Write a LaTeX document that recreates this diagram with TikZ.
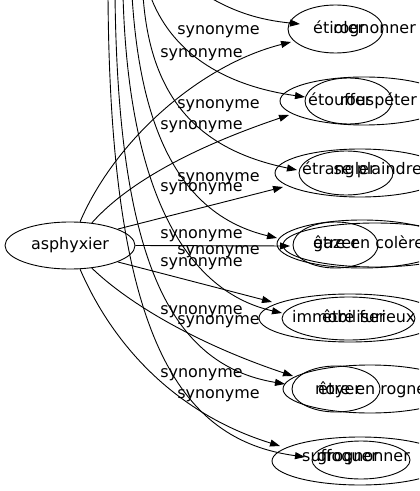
\documentclass[tikz,border=0pt]{standalone}
\usepackage{fontspec}
\setmainfont{DejaVu Sans}
\usetikzlibrary{arrows.meta,shapes.geometric}
\begin{document}
\begin{tikzpicture}[x=1bp,y=-1bp,
  ell/.style={draw,ellipse,inner sep=0pt,line width=0.9bp},
  edge/.style={draw,line width=0.9bp,-{Triangle[length=10bp,width=7bp]}},
  lbl/.style={anchor=base,inner sep=0pt,font=\fontsize{16}{19}\selectfont},
  word/.style={inner sep=0pt,font=\fontsize{16}{19}\selectfont},
]
\useasboundingbox (0,0) rectangle (419,491);
\clip (0,0) rectangle (419,491);
% source
\node[ell,minimum width=130bp,minimum height=47bp,font=\fontsize{16}{19}\selectfont] (asph) at (70,245.5) {asphyxier};
% target ellipses
\node[ell,minimum width=95bp,minimum height=48bp] (r1a) at (335.5,29) {};
\node[ell,minimum width=87bp,minimum height=46bp] (r2a) at (348.5,101) {};
\node[ell,minimum width=168bp,minimum height=48bp] (r2b) at (364,101) {};
\node[ell,minimum width=94bp,minimum height=44bp] (r3a) at (346,173) {};
\node[ell,minimum width=170bp,minimum height=48bp] (r3b) at (360,173) {};
\node[ell,minimum width=85bp,minimum height=46bp] (r4a) at (335.5,245) {};
\node[ell,minimum width=170bp,minimum height=48bp] (r4b) at (362,244) {};
\node[ell,minimum width=184bp,minimum height=44bp] (r4c) at (375,245) {};
\node[ell,minimum width=133bp,minimum height=43bp] (r5a) at (348.5,318.5) {};
\node[ell,minimum width=182bp,minimum height=48bp] (r5b) at (350,318) {};
\node[ell,minimum width=88bp,minimum height=46bp] (r6a) at (336,389) {};
\node[ell,minimum width=174bp,minimum height=48bp] (r6b) at (370,389) {};
\node[ell,minimum width=98bp,minimum height=38bp] (r7a) at (361,460) {};
\node[ell,minimum width=176bp,minimum height=48bp] (r7b) at (360,461) {};
% words
\node[word,anchor=base west] (w1a) at (313,33.5) {étioler};
\node[word,anchor=base east] (w1b) at (416,33.5) {rognonner};
\node[word,anchor=base west] (w2a) at (308,106) {étouffer};
\node[word,anchor=base east] (w2b) at (417,106) {rouspéter};
\node[word,anchor=base west] (w3a) at (302,174.5) {étrangler};
\node[word,anchor=base east] (w3b) at (422,174.5) {se plaindre};
\node[word,anchor=base west] (w4a) at (313,248.7) {gazer};
\node[word,anchor=base west] (w4b) at (313,248.7) {être en colère};
\node[word,anchor=base west] (w5a) at (292,322) {immobiliser};
\node[word,anchor=base west] (w5b) at (322,322) {être furieux};
\node[word,anchor=base west] (w6a) at (315,394.5) {noyer};
\node[word,anchor=base west] (w6b) at (318,394.5) {être en rogne};
\node[word,anchor=base west] (w7a) at (302,461.5) {suffoquer};
\node[word,anchor=base east] (w7b) at (410,461.5) {grognonner};
% edge labels
\node[lbl] (l1) at (218.5,35) {synonyme};
\node[lbl] (l2) at (201.5,57.5) {synonyme};
\node[lbl] (l3) at (218.5,108.5) {synonyme};
\node[lbl] (l4) at (201.5,129.5) {synonyme};
\node[lbl] (l5) at (218.5,181.5) {synonyme};
\node[lbl] (l6) at (201.5,191.5) {synonyme};
\node[lbl] (l7) at (201.5,238.5) {synonyme};
\node[lbl] (l8) at (218.5,254.5) {synonyme};
\node[lbl] (l9) at (201.5,266) {synonyme};
\node[lbl] (l10) at (201.5,314.5) {synonyme};
\node[lbl] (l11) at (218.5,324.5) {synonyme};
\node[lbl] (l12) at (201.5,377.5) {synonyme};
\node[lbl] (l13) at (218.5,398.5) {synonyme};
% arrow tips (graph 1)
\coordinate (e1) at (291,42);
\coordinate (e2) at (289,115);
\coordinate (e3) at (283,187);
\coordinate (e4) at (290,246);
\coordinate (e5) at (272,302);
\coordinate (e6) at (293,376);
\coordinate (e7) at (280,446);
% arrow tips (graph 2)
\coordinate (g1) at (300,24);
\coordinate (g2) at (305,97);
\coordinate (g3) at (297,170);
\coordinate (g4) at (277,238);
\coordinate (g5) at (282,313);
\coordinate (g6) at (285,384);
\coordinate (g7) at (305,457);
% free ends above the picture
\coordinate (t1) at (195,-12);
\coordinate (t2) at (150,-5);
\coordinate (t3) at (143,-5);
\coordinate (t4) at (132,-5);
\coordinate (t5) at (123,-5);
\coordinate (t6) at (115,-5);
\coordinate (t7) at (108,-5);
% edges from asphyxier
\draw[edge] (asph.67) .. controls (115,140) and (200,65) .. (e1);
\draw[edge] (asph.46) .. controls (130,180) and (200,145) .. (e2);
\draw[edge] (asph.19) -- (e3);
\draw[edge] (asph.0) -- (e4);
\draw[edge] (asph.-19) -- (e5);
\draw[edge] (asph.-46) .. controls (130,305) and (200,345) .. (e6);
\draw[edge] (asph.-67) .. controls (115,350) and (180,415) .. (e7);
% edges coming from above
\draw[edge] (t1) .. controls (230,12) and (260,20) .. (g1);
\draw[edge] (t2) .. controls (170,50) and (220,85) .. (g2);
\draw[edge] (t3) .. controls (150,100) and (200,150) .. (g3);
\draw[edge] (t4) .. controls (140,130) and (180,215) .. (g4);
\draw[edge] (t5) .. controls (128,180) and (180,290) .. (g5);
\draw[edge] (t6) .. controls (118,260) and (170,365) .. (g6);
\draw[edge] (t7) .. controls (110,340) and (180,440) .. (g7);
\end{tikzpicture}
\end{document}
